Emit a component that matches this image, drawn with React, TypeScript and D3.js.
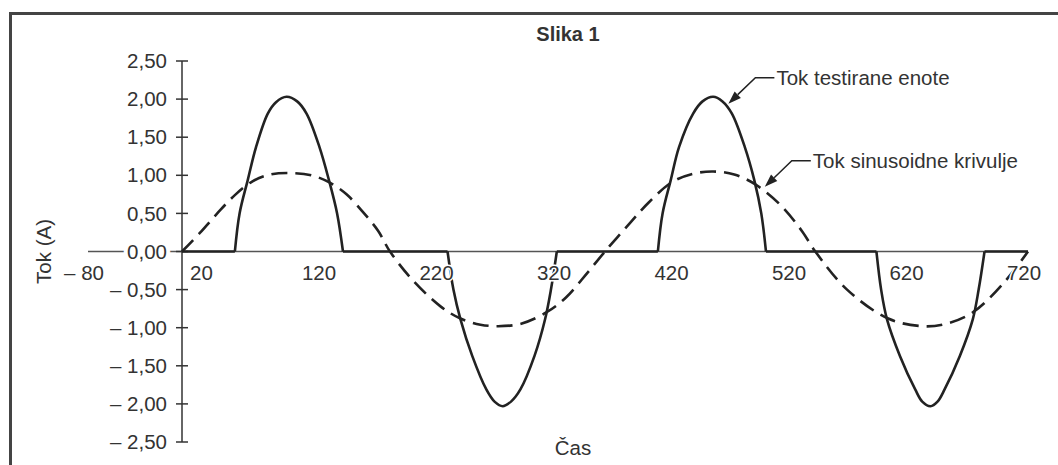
import * as d3 from 'd3';
import { useEffect, useRef } from 'react';

// x in degrees (time axis "Čas"), y in amperes
const xTickValues = [-80, 20, 120, 220, 320, 420, 520, 620, 720];
const yTickValues = [2.5, 2, 1.5, 1, 0.5, 0, -0.5, -1, -1.5, -2, -2.5];

// Tok sinusoidne krivulje (dashed)
const sineX = [0, 15, 30, 45, 60, 75, 92, 110, 125, 140, 155, 167, 177, 196, 220, 237, 254, 269, 288, 310, 327, 345, 360,
  381, 397, 417, 435, 452, 470, 488, 510, 528, 539, 566, 601, 630, 650, 673, 700, 720];
const sineY = [0, 0.24, 0.5, 0.74, 0.92, 1.01, 1.03, 1.0, 0.91, 0.75, 0.5, 0.27, 0, -0.37, -0.72, -0.88, -0.96, -0.98, -0.95, -0.8, -0.6, -0.28, 0,
  0.37, 0.64, 0.91, 1.02, 1.05, 1.01, 0.88, 0.6, 0.26, 0, -0.5, -0.88, -0.98, -0.95, -0.8, -0.4, 0];

// Tok testirane enote (solid)
const unitX = [0, 45, 49, 56, 63, 73, 80, 89, 98, 106, 117, 125, 132, 137,
  226, 231, 237, 247, 259, 266, 273, 280, 288, 300, 309, 314, 319,
  405, 409, 416, 423, 435, 443, 452, 460, 468, 479, 487, 493, 497,
  591, 595, 600, 611, 624, 630, 637, 643, 649, 662, 673, 678, 683, 720];
const unitY = [0, 0, 0.5, 0.94, 1.37, 1.81, 1.96, 2.03, 1.97, 1.81, 1.37, 0.94, 0.5, 0,
  0, -0.5, -0.89, -1.37, -1.81, -1.97, -2.03, -1.97, -1.81, -1.37, -0.89, -0.5, 0,
  0, 0.5, 0.94, 1.37, 1.81, 1.97, 2.03, 1.97, 1.81, 1.37, 0.94, 0.5, 0,
  0, -0.5, -0.89, -1.37, -1.81, -1.97, -2.03, -1.97, -1.81, -1.37, -0.89, -0.5, 0, 0];

const notes = [
  { x: 465, y: 1.94, text: 'Tok testirane enote' },
  { x: 496, y: 0.85, text: 'Tok sinusoidne krivulje' },
];

const FONT = '"Liberation Sans", Arial, Helvetica, sans-serif';
const INK = '#222';
const TXT = '#333';

const fmt = (v: number) => (v < 0 ? '\u2013 ' : '') + Math.abs(v).toFixed(2).replace('.', ',');
const fmtX = (v: number) => (v < 0 ? '\u2013 ' : '') + Math.abs(v);

type Pt = [number, number];

export default function App() {
  const ref = useRef<SVGSVGElement>(null);

  useEffect(() => {
    const svg = d3.select(ref.current);
    svg.selectAll('*').remove();

    const x = d3.scaleLinear().domain([-80, 720]).range([88, 1028]);
    const y = d3.scaleLinear().domain([-2.5, 2.5]).range([442, 61]);
    const x0 = x(0);

    svg.append('rect').attr('width', 1058).attr('height', 465).attr('fill', '#fff');

    // frame
    svg.append('rect')
      .attr('x', 10.5).attr('y', 13.5).attr('width', 1100).attr('height', 500)
      .attr('fill', 'none').attr('stroke', '#444').attr('stroke-width', 3);

    // title
    svg.append('text')
      .attr('x', 568).attr('y', 41)
      .attr('text-anchor', 'middle')
      .style('font-family', FONT).style('font-size', '20px').style('font-weight', 'bold')
      .attr('fill', TXT)
      .text('Slika 1');

    // x axis line
    svg.append('line')
      .attr('x1', x(-80)).attr('x2', x(720))
      .attr('y1', y(0)).attr('y2', y(0))
      .attr('stroke', '#555').attr('stroke-width', 1.5);

    // y axis
    svg.append('line')
      .attr('x1', x0).attr('x2', x0)
      .attr('y1', y(2.5)).attr('y2', y(-2.5))
      .attr('stroke', '#333').attr('stroke-width', 1.5);

    svg.selectAll('.ytick').data(yTickValues).enter().append('line')
      .attr('x1', x0 - 6).attr('x2', x0 + 6)
      .attr('y1', d => y(d)).attr('y2', d => y(d))
      .attr('stroke', '#333').attr('stroke-width', 1.5);

    svg.selectAll('.ylab').data(yTickValues).enter().append('text')
      .attr('x', x0 - 15).attr('y', d => y(d))
      .attr('dy', '0.35em')
      .attr('text-anchor', 'end')
      .style('font-family', FONT).style('font-size', '20.5px')
      .attr('fill', TXT)
      .attr('stroke', '#fff').attr('stroke-width', 8).attr('paint-order', 'stroke')
      .text(d => fmt(d));

    // curves
    const sineData: Pt[] = sineX.map((v, i) => [v, sineY[i]]);
    const unitData: Pt[] = unitX.map((v, i) => [v, unitY[i]]);

    const smooth = d3.line<Pt>()
      .x(d => x(d[0])).y(d => y(d[1]))
      .curve(d3.curveCatmullRom.alpha(0.5));
    const straight = d3.line<Pt>().x(d => x(d[0])).y(d => y(d[1]));

    svg.append('path')
      .attr('d', smooth(sineData))
      .attr('fill', 'none').attr('stroke', INK).attr('stroke-width', 2.6)
      .attr('stroke-dasharray', '16 8');

    // split the solid series into flat runs and pulses
    const flats: Pt[][] = [];
    const pulses: Pt[][] = [];
    let cur: Pt[] = [];
    for (let i = 0; i < unitData.length - 1; i++) {
      const a = unitData[i], b = unitData[i + 1];
      if (a[1] === 0 && b[1] === 0) {
        flats.push([a, b]);
      } else {
        if (a[1] === 0) cur = [a];
        cur.push(b);
        if (b[1] === 0) pulses.push(cur);
      }
    }

    flats.forEach(f => {
      svg.append('path')
        .attr('d', straight(f))
        .attr('fill', 'none').attr('stroke', INK).attr('stroke-width', 2.6);
    });
    pulses.forEach(p => {
      svg.append('path')
        .attr('d', smooth(p))
        .attr('fill', 'none').attr('stroke', INK).attr('stroke-width', 2.6)
        .attr('stroke-linejoin', 'round');
    });

    // x tick labels
    svg.selectAll('.xlab').data(xTickValues).enter().append('text')
      .attr('x', d => x(d) - 4).attr('y', 280)
      .attr('text-anchor', 'middle')
      .style('font-family', FONT).style('font-size', '20.5px')
      .attr('fill', TXT)
      .attr('stroke', '#fff').attr('stroke-width', 3).attr('paint-order', 'stroke')
      .text(d => fmtX(d));

    // axis titles
    svg.append('text')
      .attr('transform', `translate(51,${y(0)}) rotate(-90)`)
      .attr('text-anchor', 'middle')
      .style('font-family', FONT).style('font-size', '20.5px')
      .attr('fill', TXT)
      .text('Tok (A)');

    svg.append('text')
      .attr('x', 573).attr('y', 455)
      .attr('text-anchor', 'middle')
      .style('font-family', FONT).style('font-size', '20.5px')
      .attr('fill', TXT)
      .text('Čas');

    // callouts
    notes.forEach(n => {
      const tx = x(n.x), ty = y(n.y);
      const ex = tx + 27, ey = ty - 26;
      const hx = ex + 19;
      const ang = Math.atan2(ey - ty, ex - tx);
      const len = 13, half = 4.5;
      const bx = tx + Math.cos(ang) * len, by = ty + Math.sin(ang) * len;
      const px = -Math.sin(ang) * half, py = Math.cos(ang) * half;
      svg.append('path')
        .attr('d', `M${bx},${by}L${ex},${ey}L${hx},${ey}`)
        .attr('fill', 'none').attr('stroke', INK).attr('stroke-width', 1.5);
      svg.append('path')
        .attr('d', `M${tx},${ty}L${bx + px},${by + py}L${bx - px},${by - py}Z`)
        .attr('fill', INK);
      svg.append('text')
        .attr('x', hx + 2).attr('y', ey + 7)
        .style('font-family', FONT).style('font-size', '20.5px')
        .attr('fill', TXT)
        .text(n.text);
    });
  }, []);

  return <svg ref={ref} width={1058} height={465} style={{ position: 'absolute', left: 0, top: 0 }} />;
}
